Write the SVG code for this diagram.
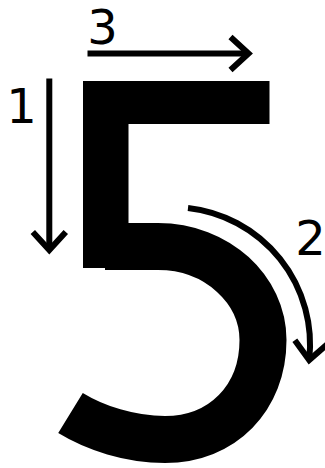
<svg xmlns="http://www.w3.org/2000/svg" width="325" height="468" viewBox="0 0 325 468">
  <style>
    .label { font-family: "DejaVu Sans", sans-serif; font-size: 48px; fill: #000; text-anchor: middle; }
    .arrow { fill: none; stroke: #000; stroke-width: 6; marker-end: url(#chev); }
    .bar { fill: #000; }
    .bowl { fill: none; stroke: #000; stroke-width: 47; stroke-linecap: butt; }
  </style>
  <defs>
    <marker id="chev" markerUnits="userSpaceOnUse" viewBox="-30 -25 40 50" refX="0" refY="0" markerWidth="40" markerHeight="50" orient="auto" overflow="visible">
      <path d="M -18 -16.5 L 0 0 L -18 16.5" fill="none" stroke="#000" stroke-width="6" stroke-linejoin="miter"/>
    </marker>
  </defs>
  <rect width="325" height="468" fill="#fff"/>
  <g id="digit5">
    <path class="bowl" d="M 105 246.5 L 158 246.5 C 217.5 246.5 263 290 263 340 C 263 398 222.5 439.5 165 439.5 C 130 439.5 95 428 70.5 413"/>
    <rect class="bar" x="83" y="81" width="186.5" height="43"/>
    <rect class="bar" x="83" y="81" width="45.5" height="187"/>
  </g>
  <g id="connectors">
    <path class="arrow" d="M 49.3 78.5 L 49.3 250"/>
    <path class="arrow" d="M 87.5 53.5 L 248.5 53.5"/>
    <path class="arrow" d="M 188 208 A 137.5 137.5 0 0 1 309.2 360"/>
  </g>
  <g id="label1"><text class="label" x="21.5" y="122.5" font-size="50">1</text></g>
  <g id="label2"><text class="label" x="310.5" y="255">2</text></g>
  <g id="label3"><text class="label" x="102.5" y="44" font-size="44">3</text></g>
</svg>
